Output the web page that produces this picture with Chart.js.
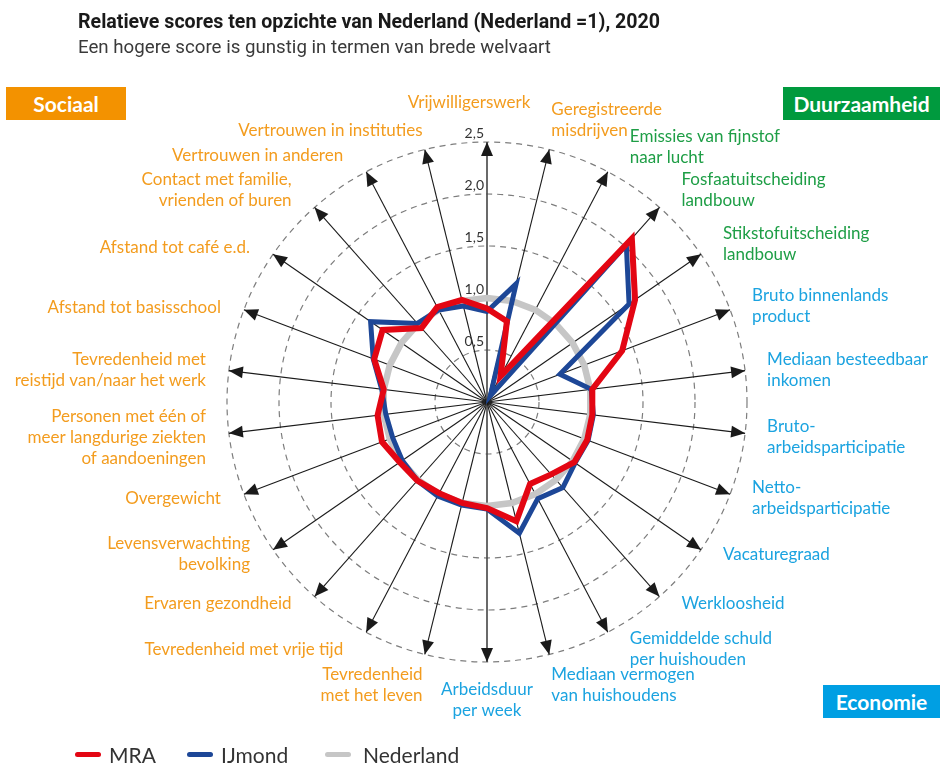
<!DOCTYPE html>
<html lang="nl">
<head>
<meta charset="utf-8">
<title>Brede welvaart – relatieve scores</title>
<script src="https://cdn.jsdelivr.net/npm/chart.js@4.4.1/dist/chart.umd.min.js"></script>
<style>
  html, body { margin: 0; padding: 0; background: #fff; }
  body { width: 940px; height: 764px; position: relative; overflow: hidden; font-family: Lato, 'Noto Sans', sans-serif; }
  #wrap { position: absolute; left: 0; top: 0; width: 940px; height: 764px; }
  .title { position: absolute; left: 78px; top: 10px; font: 700 19.6px/23px Roboto, sans-serif; color: #1a1a1a; white-space: nowrap; }
  .subtitle { position: absolute; left: 78px; top: 36px; font: 400 18.7px/22px Roboto, sans-serif; color: #3a3a3a; white-space: nowrap; }
  .badge { position: absolute; height: 33px; line-height: 33px; color: #fff; font-weight: 700; font-size: 21px; text-align: center; }
  #sociaal { left: 6px; top: 87px; width: 120px; background: #f39200; }
  #duurzaam { left: 783px; top: 87px; width: 157px; background: #009a3e; }
  #economie { left: 823px; top: 685px; width: 117px; background: #009fe3; }
  .legend { position: absolute; left: 75px; top: 742px; display: flex; align-items: center; font-size: 21px; color: #333; }
  .legend .swatch { display: inline-block; width: 26px; height: 5px; border-radius: 3px; margin-right: 8px; }
  .legend .item { display: flex; align-items: center; }
  .legend .item:nth-child(1) { width: 112px; }
  .legend .item:nth-child(2) { width: 138px; }
  .legend .item:nth-child(3) .swatch { margin-right: 12px; }
</style>
</head>
<body>
<div id="wrap"><canvas id="chart"></canvas></div>
<div class="title">Relatieve scores ten opzichte van Nederland (Nederland =1), 2020</div>
<div class="subtitle">Een hogere score is gunstig in termen van brede welvaart</div>
<div class="badge" id="sociaal">Sociaal</div>
<div class="badge" id="duurzaam">Duurzaamheid</div>
<div class="badge" id="economie">Economie</div>
<div class="legend" id="legend"></div>

<script>
// indicators, clockwise from the top axis
const categories = [
  ['Vrijwilligerswerk'],
  ['Geregistreerde', 'misdrijven'],
  ['Emissies van fijnstof', 'naar lucht'],
  ['Fosfaatuitscheiding', 'landbouw'],
  ['Stikstofuitscheiding', 'landbouw'],
  ['Bruto binnenlands', 'product'],
  ['Mediaan besteedbaar', 'inkomen'],
  ['Bruto-', 'arbeidsparticipatie'],
  ['Netto-', 'arbeidsparticipatie'],
  ['Vacaturegraad'],
  ['Werkloosheid'],
  ['Gemiddelde schuld', 'per huishouden'],
  ['Mediaan vermogen', 'van huishoudens'],
  ['Arbeidsduur', 'per week'],
  ['Tevredenheid', 'met het leven'],
  ['Tevredenheid met vrije tijd'],
  ['Ervaren gezondheid'],
  ['Levensverwachting', 'bevolking'],
  ['Overgewicht'],
  ['Personen met één of', 'meer langdurige ziekten', 'of aandoeningen'],
  ['Tevredenheid met', 'reistijd van/naar het werk'],
  ['Afstand tot basisschool'],
  ['Afstand tot café e.d.'],
  ['Contact met familie,', 'vrienden of buren'],
  ['Vertrouwen in anderen'],
  ['Vertrouwen in instituties'],
];

const dimension = [
  'sociaal', 'sociaal', 'duurzaam', 'duurzaam', 'duurzaam',
  'economie', 'economie', 'economie', 'economie', 'economie',
  'economie', 'economie', 'economie', 'economie',
  'sociaal', 'sociaal', 'sociaal', 'sociaal', 'sociaal', 'sociaal',
  'sociaal', 'sociaal', 'sociaal', 'sociaal', 'sociaal', 'sociaal',
];

const mraValues = [
  0.90, 0.80, 0.28, 2.10, 1.73, 1.39, 1.02, 1.02, 1.03, 1.02, 0.93, 0.89, 1.18,
  1.02, 1.00, 0.99, 1.01, 1.02, 1.08, 1.06, 1.00, 1.16, 1.22, 0.95, 1.03, 1.01,
];
const ijmondValues = [
  0.87, 1.17, 0.07, 2.02, 1.66, 0.75, 1.01, 1.03, 1.04, 1.03, 1.10, 1.05, 1.30,
  1.03, 1.02, 1.02, 1.01, 0.99, 0.97, 0.98, 1.02, 1.17, 1.36, 1.01, 1.00, 0.95,
];
const nederlandValues = categories.map(() => 1);

const tickValues = [0.5, 1, 1.5, 2, 2.5];
const tickLabels = ['0,5', '1,0', '1,5', '2,0', '2,5'];

const series = [
  { label: 'MRA', data: mraValues, color: '#e30613', width: 6 },
  { label: 'IJmond', data: ijmondValues, color: '#1d4797', width: 5 },
  { label: 'Nederland', data: nederlandValues, color: '#c6c6c6', width: 6.5 },
];

const labelColor = { sociaal: '#f39c1e', duurzaam: '#1e9e46', economie: '#1ba3e0' };

function drawArrowheads(ctx, scale) {
  ctx.save();
  ctx.fillStyle = '#1a1a1a';
  categories.forEach((_, i) => {
    const tip = scale.getPointPosition(i, scale.drawingArea);
    const a = scale.getIndexAngle(i) - Math.PI / 2;
    const len = 14, half = 6;
    const bx = tip.x - Math.cos(a) * len;
    const by = tip.y - Math.sin(a) * len;
    ctx.beginPath();
    ctx.moveTo(tip.x, tip.y);
    ctx.lineTo(bx - Math.sin(a) * half, by + Math.cos(a) * half);
    ctx.lineTo(bx + Math.sin(a) * half, by - Math.cos(a) * half);
    ctx.closePath();
    ctx.fill();
  });
  ctx.restore();
}

function drawTickLabels(ctx, scale) {
  ctx.save();
  ctx.font = '14px Lato, sans-serif';
  ctx.fillStyle = '#333';
  ctx.textAlign = 'right';
  ctx.textBaseline = 'middle';
  tickValues.forEach((v, k) => {
    const r = scale.getDistanceFromCenterForValue(v);
    ctx.fillText(tickLabels[k], scale.xCenter - 3, scale.yCenter - r - 9);
  });
  ctx.restore();
}

function drawCategoryLabels(ctx, scale) {
  const lh = 21;
  ctx.save();
  ctx.font = '17px Lato, sans-serif';
  ctx.textBaseline = 'middle';
  categories.forEach((lines, i) => {
    const tip = scale.getPointPosition(i, scale.drawingArea);
    const ang = scale.getIndexAngle(i);
    const s = Math.sin(ang), c = Math.cos(ang);
    const h = lines.length * lh;
    const push = Math.min(1, Math.max(0, (Math.abs(s) - 0.22) / 0.2));
    let x = tip.x + Math.sign(s) * (s > 0 ? 22 : 23) * push;
    // upper half: text block above the tip, lower half: below it
    let cy = c > 0
      ? tip.y - (h / 2 + 10) * c * c
      : tip.y + 4 + 34 * Math.pow(-c, 8);
    let align = s > 0 ? 'left' : 'right';
    if (Math.abs(s) < 0.05) {
      align = 'center';
      x = tip.x;
      // top label sits left of the axis, clear of the tick labels
      if (c > 0) { x = tip.x - 18; cy = tip.y - 39; }
    }
    ctx.textAlign = align;
    ctx.fillStyle = labelColor[dimension[i]];
    lines.forEach((line, k) => {
      ctx.fillText(line, x, cy - h / 2 + lh * (k + 0.5));
    });
  });
  ctx.restore();
}

const radarDecor = {
  id: 'radarDecor',
  afterDraw(chart) {
    const scale = chart.scales.r;
    drawArrowheads(chart.ctx, scale);
    drawTickLabels(chart.ctx, scale);
    drawCategoryLabels(chart.ctx, scale);
  },
};

function buildLegend() {
  const el = document.getElementById('legend');
  el.innerHTML = series
    .map((s) => `<div class="item"><span class="swatch" style="background:${s.color}"></span>${s.label}</div>`)
    .join('');
}

function initChart() {
  const ctx = document.getElementById('chart').getContext('2d');
  new Chart(ctx, {
    type: 'radar',
    data: {
      labels: categories,
      datasets: series.map((s) => ({
        label: s.label,
        data: s.data,
        borderColor: s.color,
        backgroundColor: s.color,
        borderWidth: s.width,
        fill: false,
        pointRadius: 0,
        pointHoverRadius: 0,
      })),
    },
    options: {
      responsive: true,
      maintainAspectRatio: false,
      animation: false,
      layout: { padding: { left: 227, right: 193, top: 142, bottom: 102 } },
      elements: { line: { tension: 0, borderJoinStyle: 'miter' } },
      plugins: {
        legend: { display: false },
        tooltip: { enabled: false },
      },
      scales: {
        r: {
          min: 0,
          max: 2.5,
          ticks: { display: false, stepSize: 0.5 },
          pointLabels: { display: false },
          grid: { circular: true, color: '#7d7d7d', lineWidth: 1.2 },
          border: { dash: [6, 5] },
          angleLines: {
            color: (c) => (c.index % 13 === 0 ? '#444' : '#1a1a1a'),
            lineWidth: (c) => (c.index % 13 === 0 ? 1.6 : 1.1),
          },
        },
      },
    },
    plugins: [radarDecor],
  });
}

buildLegend();
initChart();
</script>
</body>
</html>
